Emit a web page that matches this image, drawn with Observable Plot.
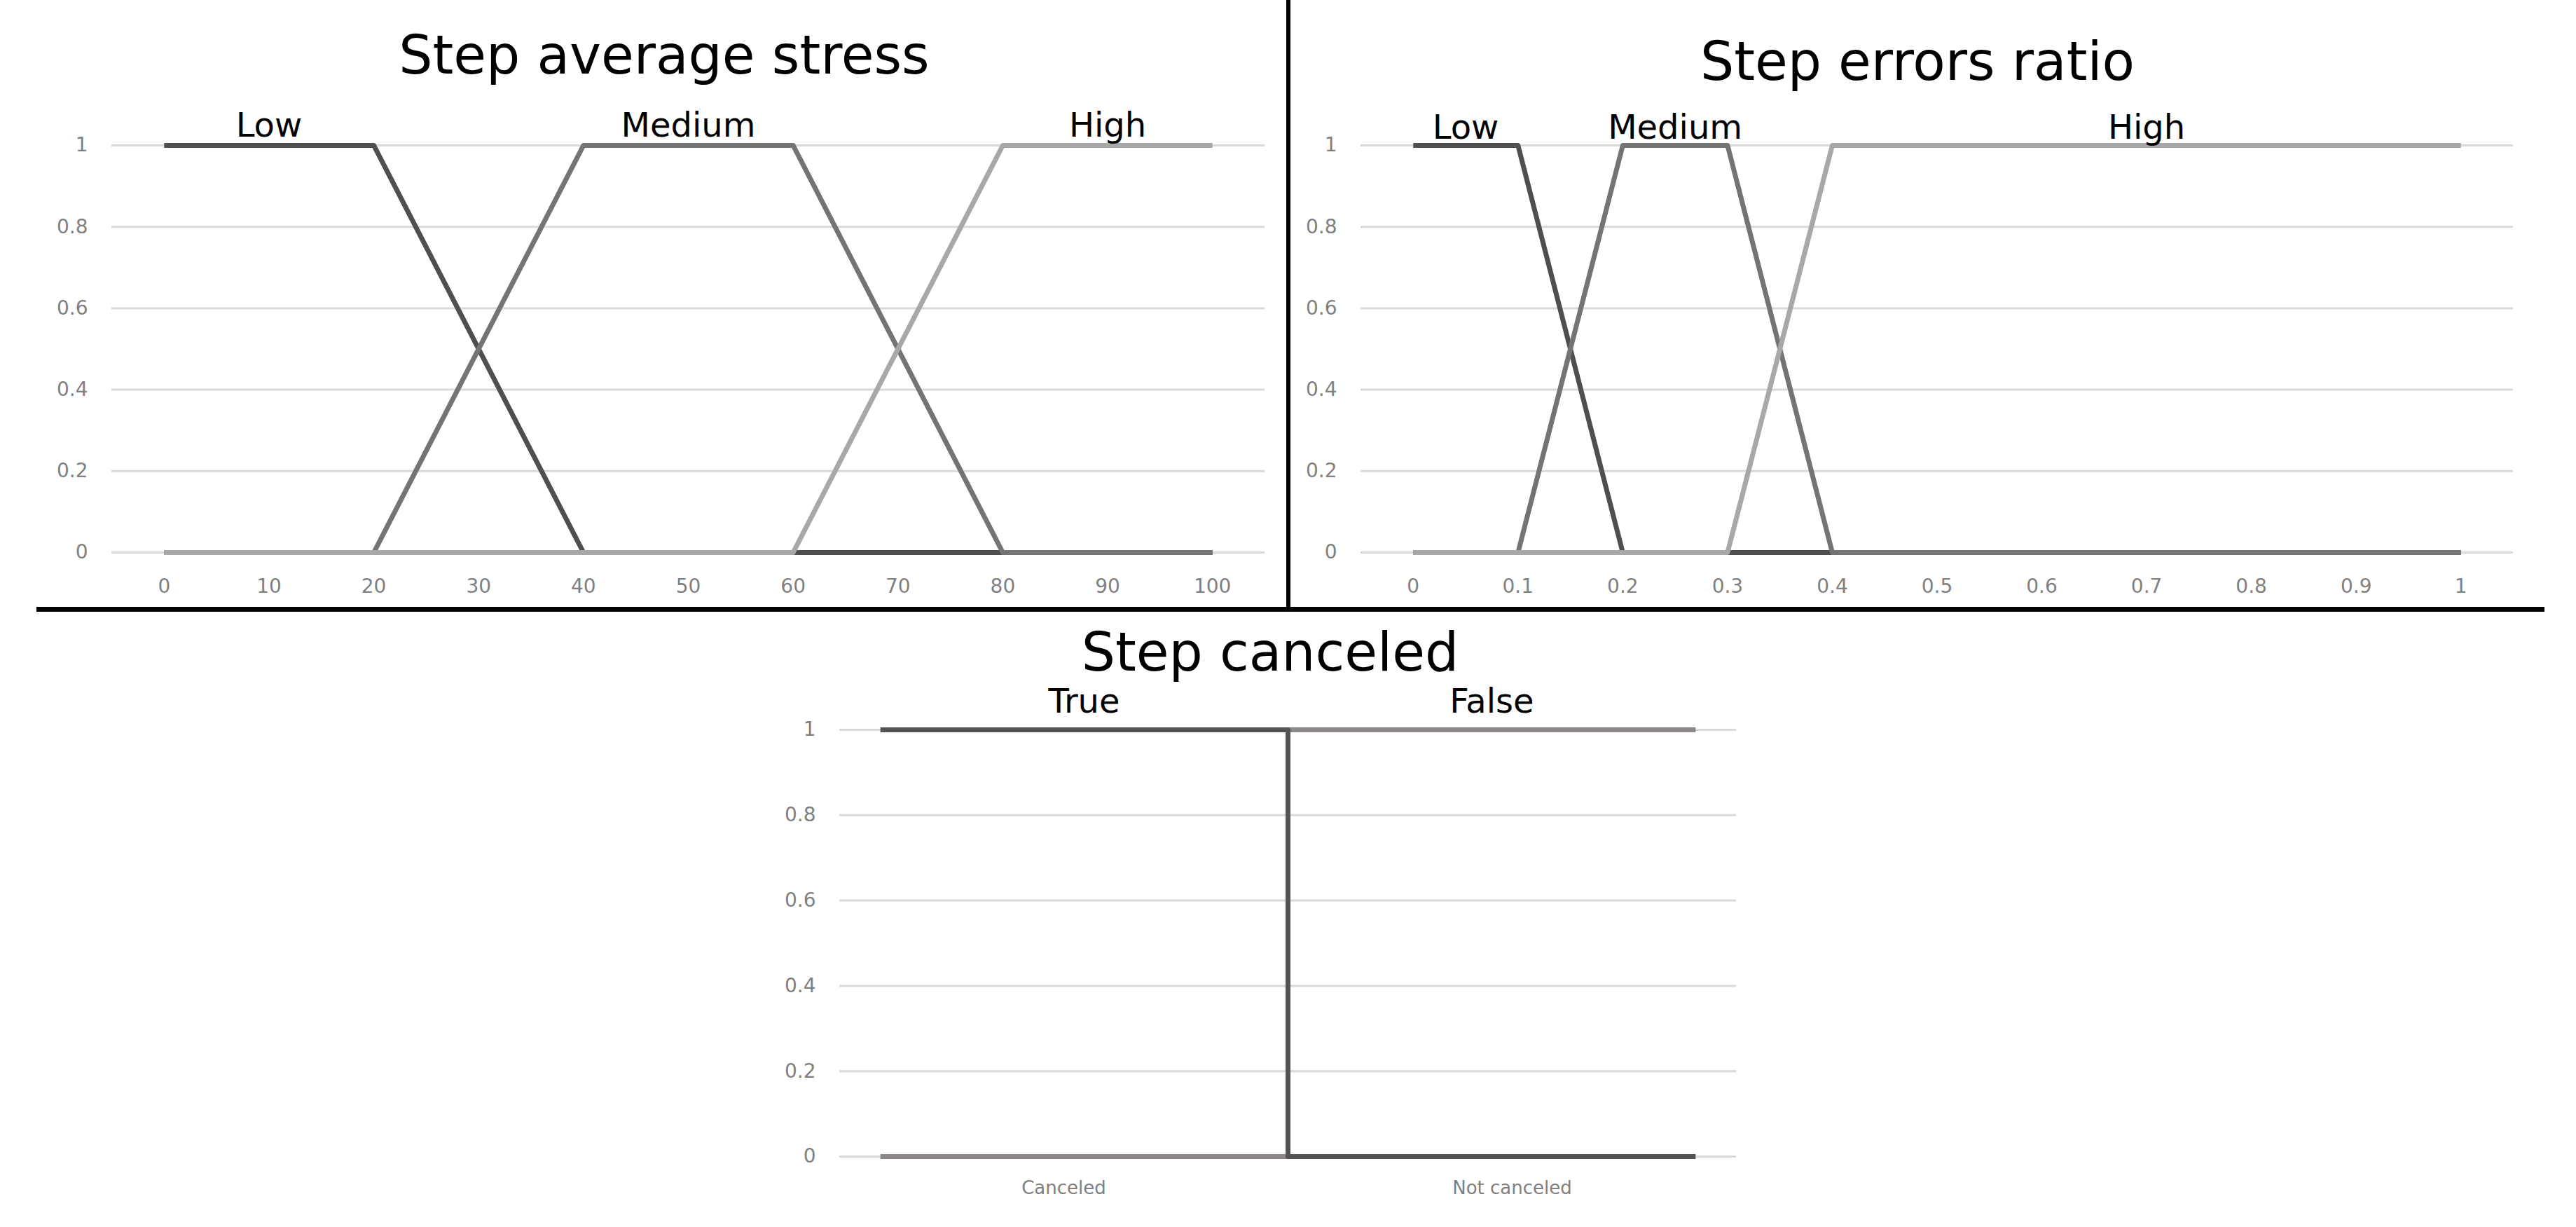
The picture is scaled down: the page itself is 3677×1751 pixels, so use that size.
<!DOCTYPE html>
<html>
<head>
<meta charset="utf-8">
<script src="https://cdn.jsdelivr.net/npm/d3@7"></script>
<script src="https://cdn.jsdelivr.net/npm/@observablehq/plot@0.6"></script>
<style>
  html, body { margin: 0; padding: 0; background: #fff; }
  #page { position: relative; width: 3677px; height: 1751px; overflow: hidden; background: #fff; font-family: "DejaVu Sans", sans-serif; }
  .panel { position: absolute; }
  .title { position: absolute; font-family: "DejaVu Sans", sans-serif; font-size: 76px; line-height: 76px; color: #000; white-space: nowrap; transform: translateX(-50%); z-index: 3; }
  .divider { position: absolute; background: #000; z-index: 4; }
</style>
</head>
<body>
<div id="page"></div>
<script>
// ---------- data ----------
const levels = ["Low", "Medium", "High"];
const levelColors = ["#4f4f4f", "#747474", "#a8a8a8"];

// Step average stress
const stressX = [0, 20, 40, 60, 80, 100];
const stressLow = [1, 1, 0, 0, 0, 0];
const stressMedium = [0, 0, 1, 1, 0, 0];
const stressHigh = [0, 0, 0, 0, 1, 1];
const stressLabelX = [10, 50, 90];
const stressTicks = [0, 10, 20, 30, 40, 50, 60, 70, 80, 90, 100];

// Step errors ratio
const ratioX = [0, 0.1, 0.2, 0.3, 0.4, 1];
const ratioLow = [1, 1, 0, 0, 0, 0];
const ratioMedium = [0, 0, 1, 1, 0, 0];
const ratioHigh = [0, 0, 0, 0, 1, 1];
const ratioLabelX = [0.05, 0.25, 0.7];
const ratioTicks = [0, 0.1, 0.2, 0.3, 0.4, 0.5, 0.6, 0.7, 0.8, 0.9, 1];

// Step canceled (False drawn first, True on top)
const cancelSeries = ["False", "True"];
const cancelColors = ["#8b8887", "#545454"];
const cancelX = [0, 1, 1, 2];
const cancelFalse = [0, 0, 1, 1];
const cancelTrue = [1, 1, 0, 0];
const cancelLabelX = [1.5, 0.5];
const cancelCategoryX = [0.45, 1.55];
const cancelCategories = ["Canceled", "Not canceled"];

const yTicks = [0, 0.2, 0.4, 0.6, 0.8, 1];
const titles = ["Step average stress", "Step errors ratio", "Step canceled"];

// ---------- helpers ----------
const fmt = d => String(d);
function rowsFrom(xs, seriesNames, seriesValues) {
  const rows = [];
  seriesNames.forEach((s, i) => xs.forEach((x, j) => rows.push({series: s, x, y: seriesValues[i][j]})));
  return rows;
}
function labelsFrom(names, xs) {
  return names.map((s, i) => ({series: s, x: xs[i], y: 1}));
}

const page = document.getElementById("page");
function place(node, left, top) {
  const d = document.createElement("div");
  d.className = "panel";
  d.style.left = left + "px";
  d.style.top = top + "px";
  d.appendChild(node);
  page.appendChild(d);
}
function addTitle(text, cx, top) {
  const t = document.createElement("div");
  t.className = "title";
  t.textContent = text;
  t.style.left = cx + "px";
  t.style.top = top + "px";
  page.appendChild(t);
}
function addDivider(left, top, w, h) {
  const d = document.createElement("div");
  d.className = "divider";
  Object.assign(d.style, {left: left + "px", top: top + "px", width: w + "px", height: h + "px"});
  page.appendChild(d);
}

const baseStyle = {fontFamily: "DejaVu Sans, sans-serif", color: "#808080", background: "transparent", maxWidth: "none", overflow: "visible"};

function fuzzyPanel({width, height, margins, xDomain, names, colors, rows, labels, labelDy, xTickValues, xTickFormat, xTickFont, xTickPadding}) {
  return Plot.plot({
    width, height,
    marginLeft: margins[0], marginRight: margins[1], marginTop: margins[2], marginBottom: margins[3],
    x: {domain: xDomain},
    y: {domain: [0, 1]},
    color: {domain: names, range: colors},
    style: baseStyle,
    marks: [
      Plot.gridY(yTicks, {stroke: "#d9d9d9", strokeOpacity: 1, strokeWidth: 3}),
      Plot.axisY(yTicks, {tickSize: 0, tickPadding: 34, fontSize: 28, tickFormat: fmt, label: null}),
      Plot.axisX(xTickValues, {tickSize: 0, tickPadding: xTickPadding, fontSize: xTickFont, tickFormat: xTickFormat, label: null}),
      Plot.line(rows, {x: "x", y: "y", z: "series", stroke: "series", strokeWidth: 7, strokeLinecap: "butt"}),
      Plot.text(labels, {x: "x", y: "y", text: "series", fill: "#000", fontSize: 48, lineAnchor: "bottom", dy: labelDy})
    ]
  });
}

// Panel 1: Step average stress
place(fuzzyPanel({
  width: 1830, height: 710, margins: [159, 25, 57, 72],
  xDomain: [-5, 105],
  names: levels, colors: levelColors,
  rows: rowsFrom(stressX, levels, [stressLow, stressMedium, stressHigh]),
  labels: labelsFrom(levels, stressLabelX), labelDy: -13,
  xTickValues: stressTicks, xTickFormat: fmt, xTickFont: 28, xTickPadding: 38
}), 0, 150);

// Panel 2: Step errors ratio
place(fuzzyPanel({
  width: 1800, height: 710, margins: [102, 53, 57, 72],
  xDomain: [-0.05, 1.05],
  names: levels, colors: levelColors,
  rows: rowsFrom(ratioX, levels, [ratioLow, ratioMedium, ratioHigh]),
  labels: labelsFrom(levels, ratioLabelX), labelDy: -10,
  xTickValues: ratioTicks, xTickFormat: fmt, xTickFont: 28, xTickPadding: 38
}), 1840, 150);

// Panel 3: Step canceled
place(fuzzyPanel({
  width: 1540, height: 750, margins: [198, 62, 71, 70],
  xDomain: [-0.1, 2.1],
  names: cancelSeries, colors: cancelColors,
  rows: rowsFrom(cancelX, cancelSeries, [cancelFalse, cancelTrue]),
  labels: labelsFrom(cancelSeries, cancelLabelX), labelDy: -25,
  xTickValues: cancelCategoryX, xTickFormat: (d, i) => cancelCategories[i], xTickFont: 26, xTickPadding: 35
}), 1000, 970);

// Titles
addTitle(titles[0], 948, 41);
addTitle(titles[1], 2737, 50);
addTitle(titles[2], 1813, 893);

// Dividers
addDivider(1836, 0, 6, 872);
addDivider(52, 866, 3580, 7);
</script>
</body>
</html>
